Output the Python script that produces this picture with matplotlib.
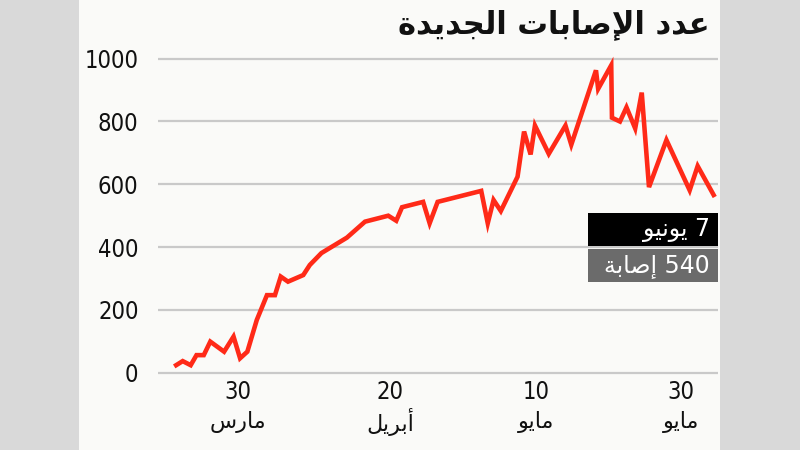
import matplotlib
matplotlib.use('Agg')
import matplotlib.pyplot as plt
from matplotlib.patches import Rectangle
import re

# days counted from 30 March, new cases per day
days = [-8.5, -7.6, -6.5, -5.7, -4.7, -3.8, -1.9, -0.6, 0.3, 1.3,
        2.6, 4.0, 5.1, 5.9, 6.9, 9.0, 9.9, 11.5, 15.0, 17.5,
        20.7, 21.8, 22.6, 25.5, 26.4, 27.5, 33.5, 34.4, 35.2, 36.2,
        38.5, 39.4, 40.3, 40.9, 42.8, 45.1, 45.9, 49.3, 49.6,
        51.4, 51.5, 52.6, 53.5, 54.7, 55.6, 56.6, 59.0, 62.2, 63.3, 65.5]
cases = [24, 37, 24, 56, 56, 99, 67, 115, 46, 67,
         168, 247, 247, 306, 290, 311, 343, 381, 430, 481,
         500, 484, 527, 544, 476, 544, 579, 476, 550, 515,
         624, 768, 695, 787, 697, 787, 726, 963, 904,
         979, 812, 800, 845, 778, 892, 591, 741, 581, 658, 566]

tick_days = [0, 21, 41, 61]
tick_nums = ['30', '20', '10', '30']
tick_months = ['مارس', 'أبريل', 'مايو', 'مايو']

title = 'عدد الإصابات الجديدة'
note_date = '7 يونيو'
note_cases = '540 إصابة'

# matplotlib does no arabic shaping, so map letters to presentation forms
FORMS = {
    'ا': ('\uFE8D', '\uFE8E', None, None),
    'أ': ('\uFE83', '\uFE84', None, None),
    'إ': ('\uFE87', '\uFE88', None, None),
    'ب': ('\uFE8F', '\uFE90', '\uFE91', '\uFE92'),
    'ة': ('\uFE93', '\uFE94', None, None),
    'ت': ('\uFE95', '\uFE96', '\uFE97', '\uFE98'),
    'ج': ('\uFE9D', '\uFE9E', '\uFE9F', '\uFEA0'),
    'د': ('\uFEA9', '\uFEAA', None, None),
    'ر': ('\uFEAD', '\uFEAE', None, None),
    'س': ('\uFEB1', '\uFEB2', '\uFEB3', '\uFEB4'),
    'ص': ('\uFEB9', '\uFEBA', '\uFEBB', '\uFEBC'),
    'ع': ('\uFEC9', '\uFECA', '\uFECB', '\uFECC'),
    'ل': ('\uFEDD', '\uFEDE', '\uFEDF', '\uFEE0'),
    'م': ('\uFEE1', '\uFEE2', '\uFEE3', '\uFEE4'),
    'ن': ('\uFEE5', '\uFEE6', '\uFEE7', '\uFEE8'),
    'و': ('\uFEED', '\uFEEE', None, None),
    'ي': ('\uFEF1', '\uFEF2', '\uFEF3', '\uFEF4'),
}
LAM_ALEF = {
    'ا': ('\uFEFB', '\uFEFC', None, None),
    'أ': ('\uFEF7', '\uFEF8', None, None),
    'إ': ('\uFEF9', '\uFEFA', None, None),
}


def shape(text):
    units = []
    i = 0
    while i < len(text):
        c = text[i]
        if c == 'ل' and i + 1 < len(text) and text[i + 1] in LAM_ALEF:
            units.append((c, LAM_ALEF[text[i + 1]]))
            i += 2
        else:
            units.append((c, FORMS.get(c)))
            i += 1
    out = []
    for k, (c, f) in enumerate(units):
        if f is None:
            out.append(c)
            continue
        prev = k > 0 and units[k - 1][1] is not None and units[k - 1][1][2] is not None
        nxt = f[2] is not None and k + 1 < len(units) and units[k + 1][1] is not None
        if prev and nxt:
            out.append(f[3])
        elif prev:
            out.append(f[1])
        elif nxt:
            out.append(f[2])
        else:
            out.append(f[0])
    return ''.join(out)


def ar(text):
    s = shape(text)
    runs = re.findall(r'\d+|\D+', s)
    runs = [r if r.isdigit() else r[::-1] for r in runs]
    return ''.join(runs[::-1])


FONT = 'DejaVu Sans'
W, H = 800, 450

fig = plt.figure(figsize=(8, 4.5), dpi=100, facecolor='#d9d9d9')
fig.patches.append(Rectangle((79 / W, 0), (720 - 79) / W, 1, transform=fig.transFigure,
                             facecolor='#fafaf8', edgecolor='none', zorder=-10))

ax = fig.add_axes([158 / W, 1 - 379 / H, 560 / W, (379 - 52.4) / H])
ax.set_facecolor('none')
ax.plot(days, cases, color='#ff2a18', lw=3.3, solid_joinstyle='miter', zorder=3)

ax.set_xlim(-11.0, 66.1)
ax.set_ylim(-20, 1020)
ax.set_yticks(range(0, 1001, 200))
ax.grid(axis='y', color='#c9c9c9', lw=1.6)
ax.set_axisbelow(True)
for s in ax.spines.values():
    s.set_visible(False)
ax.tick_params(length=0, pad=14)
ax.set_xticks([])
for lab in ax.get_yticklabels():
    lab.set_fontsize(17)
    lab.set_family(FONT)
    lab.set_stretch('condensed')
    lab.set_color('#111111')

tr = ax.get_xaxis_transform()
for d, n, m in zip(tick_days, tick_nums, tick_months):
    ax.text(d, (379 - 392) / 326.6, n, transform=tr, ha='center', va='center',
            fontsize=17, family=FONT, stretch='condensed', color='#111111')
    ax.text(d, (379 - 422) / 326.6, ar(m), transform=tr, ha='center', va='center',
            fontsize=16, family=FONT, color='#111111')

fig.text(710 / W, 1 - 25 / H, ar(title), ha='right', va='center',
         fontsize=22, family=FONT, fontweight='bold', color='#111111')

fig.patches.append(Rectangle((588 / W, 1 - 246 / H), 130 / W, 33 / H, transform=fig.transFigure,
                             facecolor='#000000', edgecolor='none', zorder=5))
fig.patches.append(Rectangle((588 / W, 1 - 282 / H), 130 / W, 33 / H, transform=fig.transFigure,
                             facecolor='#6b6b6b', edgecolor='none', zorder=5))
fig.text(710 / W, 1 - 229.5 / H, ar(note_date), ha='right', va='center',
         fontsize=17, family=FONT, color='white', zorder=6)
fig.text(710 / W, 1 - 265.5 / H, ar(note_cases), ha='right', va='center',
         fontsize=17, family=FONT, color='white', zorder=6)

fig.savefig('out.png', dpi=100, facecolor=fig.get_facecolor())
